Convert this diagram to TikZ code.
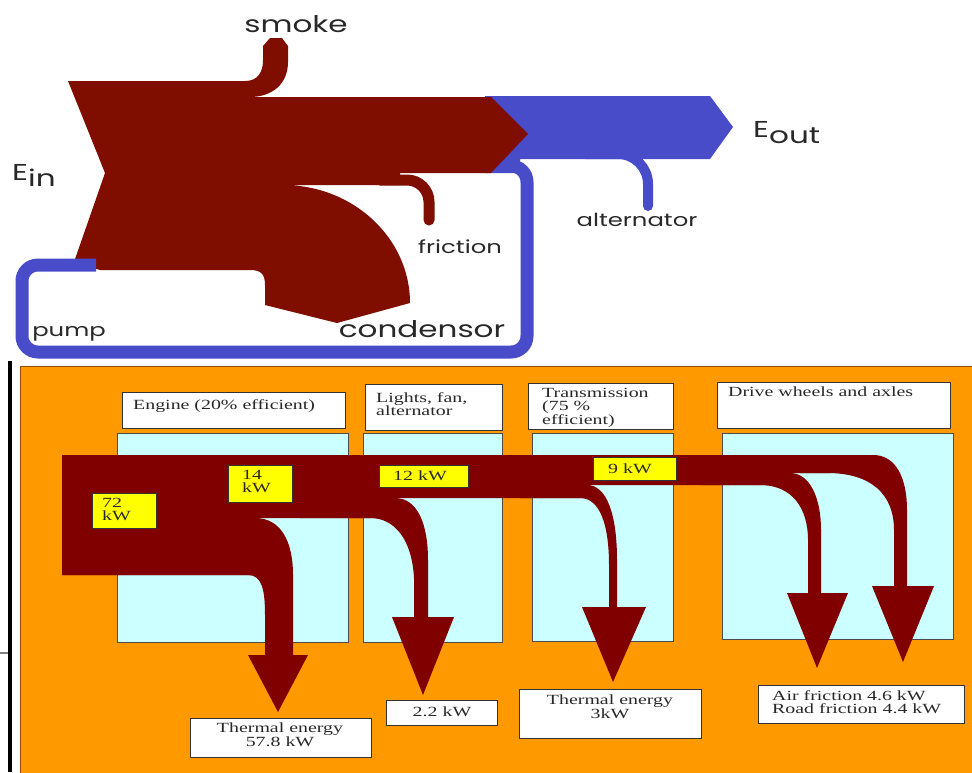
\documentclass[tikz,border=0pt]{standalone}
\usepackage{fontspec}
\usepackage{xcolor}
\usepackage{tikz}
\usetikzlibrary{positioning}

\newfontfamily\sankeyfont[FakeStretch=1.35]{Poppins}
\newfontfamily\panelfont[FakeStretch=1.42]{Liberation Serif}

\definecolor{steamred}{RGB}{128,14,0}
\definecolor{workblue}{RGB}{72,76,200}
\definecolor{flowred}{RGB}{128,0,0}
\definecolor{panelorange}{RGB}{255,153,0}
\definecolor{stagecyan}{RGB}{204,255,255}
\definecolor{tagyellow}{RGB}{255,255,0}
\definecolor{inkgray}{RGB}{40,40,40}

\tikzset{
  toplabel/.style={font=\sankeyfont\fontsize{23}{23}\selectfont,text=inkgray,inner sep=0pt},
  smalllabel/.style={font=\sankeyfont\fontsize{18}{18}\selectfont,text=inkgray,inner sep=0pt},
  paneltext/.style={font=\panelfont\fontsize{14}{13.5}\selectfont,text=inkgray,inner sep=0pt,align=left},
  namebox/.style={draw=gray!40!black,fill=white,line width=1pt,inner sep=0pt},
  stagebox/.style={draw=gray!60!black,fill=stagecyan,line width=1pt,inner sep=0pt},
  valuebox/.style={draw=gray!40!black,fill=tagyellow,line width=1pt,inner sep=0pt},
}

\begin{document}
\begin{tikzpicture}[x=1pt,y=-1pt]
  \useasboundingbox (0,0) rectangle (972,772);
  \fill[white] (0,0) rectangle (972,772);

  % blue output arrow and alternator hook
  \fill[workblue] (485,96) -- (710,96) -- (733,127) -- (710,159) -- (520,159) -- (520,173) -- (485,173) -- cycle;
  \draw[workblue,line width=10pt,rounded corners=30pt,line cap=round] (585,154) -- (648,154) -- (648,206);

  % red input flow
  \fill[steamred] (68,81) -- (250,81) -- (250,97) -- (491,97) -- (528,134) -- (491,173) -- (400,173) -- (400,185)
    -- (283,185) .. controls (353,185) and (410,238) .. (410,303) -- (337,323) -- (265,305) -- (265,285)
    .. controls (265,274) and (261,270) .. (250,270) -- (100,270) -- (74,262) -- (105,173) -- cycle;
  % smoke
  \fill[steamred] (235,81) -- (245,81) .. controls (258,81) and (263,72) .. (263,60) -- (263,46) -- (270,38)
    -- (282,38) -- (288,46) -- (288,62) .. controls (288,84) and (272,97) .. (250,97) -- (235,97) -- cycle;
  % friction
  \draw[steamred,line width=11pt,rounded corners=22pt,line cap=round] (380,180) -- (429,180) -- (429,220);
  % pump loop
  \draw[workblue,line width=13pt,rounded corners=16pt] (505,166) -- (527,166) -- (527,352) -- (22,352) -- (22,265) -- (96,265);

  \node[toplabel,anchor=base] (smoke) at (296,32) {smoke};
  \node[toplabel,anchor=base west] (ein) at (12,180) {E\raisebox{-6pt}{in}};
  \node[toplabel,anchor=base west] (eout) at (753,137) {E\raisebox{-6pt}{out}};
  \node[smalllabel,anchor=base] (friction) at (460,253) {friction};
  \node[smalllabel,anchor=base] (alternator) at (637,226) {alternator};
  \node[smalllabel,anchor=base] (pump) at (69,336) {pump};
  \node[toplabel,anchor=base] (condensor) at (422,337) {condensor};

  % lower panel
  \draw[black,line width=4pt] (10,361) -- (10,772);
  \draw[gray,line width=2pt] (0,653) -- (8,653);
  \filldraw[fill=panelorange,draw=orange!60!black,line width=1pt] (20,366) rectangle (975,775);

  \node[namebox,minimum width=223,minimum height=36,anchor=north west] (engine) at (122,392) {};
  \node[namebox,minimum width=137,minimum height=46,anchor=north west] (lights) at (365,384) {};
  \node[namebox,minimum width=145,minimum height=46,anchor=north west] (trans) at (528,383) {};
  \node[namebox,minimum width=233,minimum height=46,anchor=north west] (drive) at (717,382) {};
  \node[stagebox,minimum width=231,minimum height=209,anchor=north west] (engine-stage) at (117,433) {};
  \node[stagebox,minimum width=139,minimum height=209,anchor=north west] (lights-stage) at (363,433) {};
  \node[stagebox,minimum width=141,minimum height=208,anchor=north west] (trans-stage) at (532,433) {};
  \node[stagebox,minimum width=231,minimum height=206,anchor=north west] (drive-stage) at (722,433) {};

  \node[paneltext,anchor=north west] (engine-txt) at (133,399) {Engine (20\% efficient)};
  \node[paneltext,anchor=north west] (lights-txt) at (376,392) {Lights, fan,\\alternator};
  \node[paneltext,anchor=north west] (trans-txt) at (542,388) {Transmission\\(75 \%\\efficient)};
  \node[paneltext,anchor=north west] (drive-txt) at (728,387) {Drive wheels and axles};

  % energy flow
  \fill[flowred] (62,455) -- (830,455) -- (830,473) -- (790,473) -- (790,485) -- (590,485) -- (590,498)
    -- (395,498) -- (395,518) -- (255,518) -- (255,575) -- (62,575) -- cycle;
  \fill[flowred] (62,518) -- (255,518) .. controls (280,518) and (293,540) .. (293,575) -- (293,656) -- (265,656)
    -- (265,615) .. controls (265,590) and (262,575) .. (248,575) -- (62,575) -- cycle;
  \fill[flowred] (248,655) -- (308,655) -- (278,712) -- cycle;
  \fill[flowred] (300,498) -- (395,498) .. controls (418,498) and (428,525) .. (428,560) -- (428,618) -- (414,618)
    -- (414,578) .. controls (412,540) and (395,518) .. (370,518) -- (300,518) -- cycle;
  \fill[flowred] (392,617) -- (454,617) -- (423,695) -- cycle;
  \fill[flowred] (520,485) -- (587,485) .. controls (607,485) and (617,515) .. (617,560) -- (617,608) -- (609,608)
    -- (609,565) .. controls (609,525) and (600,498) .. (580,498) -- (520,498) -- cycle;
  \fill[flowred] (582,607) -- (646,607) -- (613,682) -- cycle;
  \fill[flowred] (700,473) -- (790,473) .. controls (810,473) and (821,498) .. (821,530) -- (821,595) -- (808,595)
    -- (808,540) .. controls (808,508) and (792,485) .. (760,485) -- (700,485) -- cycle;
  \fill[flowred] (787,593) -- (848,593) -- (817,668) -- cycle;
  \fill[flowred] (800,455) -- (873,455) .. controls (896,455) and (907,478) .. (907,510) -- (907,588) -- (894,588)
    -- (894,530) .. controls (894,495) and (872,473) .. (827,473) -- (800,473) -- cycle;
  \fill[flowred] (872,586) -- (934,586) -- (903,662) -- cycle;

  % values
  \node[valuebox,minimum width=64,minimum height=35,anchor=north west] (v72) at (92,493) {};
  \node[valuebox,minimum width=64,minimum height=37,anchor=north west] (v14) at (228,465) {};
  \node[valuebox,minimum width=89,minimum height=22,anchor=north west] (v12) at (379,465) {};
  \node[valuebox,minimum width=83,minimum height=23,anchor=north west] (v9) at (593,457) {};
  \node[paneltext,anchor=north west] (v72-txt) at (102,498) {72\\kW};
  \node[paneltext,anchor=north west] (v14-txt) at (242,470) {14\\kW};
  \node[paneltext] (v12-txt) at (420,476) {12 kW};
  \node[paneltext] (v9-txt) at (630,469) {9 kW};

  % outputs
  \node[namebox,minimum width=181,minimum height=39,anchor=north west] (heat) at (190,718) {};
  \node[namebox,minimum width=111,minimum height=25,anchor=north west] (lamp) at (386,700) {};
  \node[namebox,minimum width=182,minimum height=49,anchor=north west] (gear) at (519,689) {};
  \node[namebox,minimum width=206,minimum height=38,anchor=north west] (road) at (758,685) {};
  \node[paneltext,align=center,anchor=north] (heat-txt) at (280,723) {Thermal energy\\57.8 kW};
  \node[paneltext] (lamp-txt) at (442,712) {2.2 kW};
  \node[paneltext,align=center,anchor=north] (gear-txt) at (610,695) {Thermal energy\\3kW};
  \node[paneltext,anchor=north west] (road-txt) at (772,690) {Air friction 4.6 kW\\Road friction 4.4 kW};
\end{tikzpicture}
\end{document}
